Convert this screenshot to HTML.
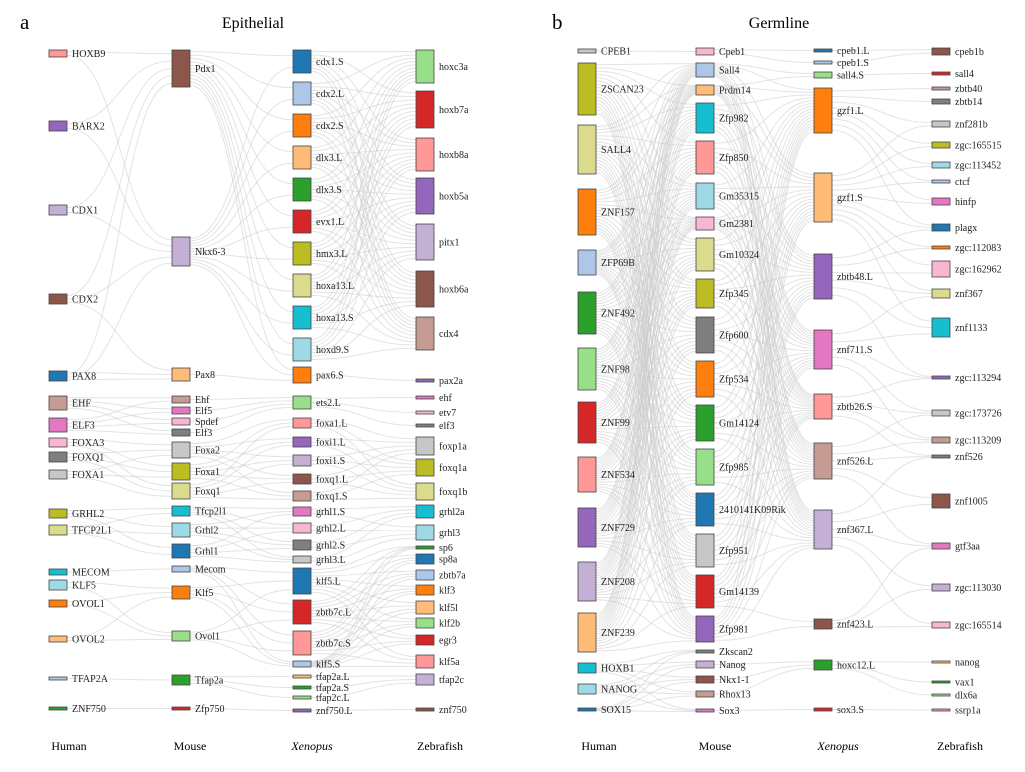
<!DOCTYPE html>
<html><head><meta charset="utf-8">
<style>
body{margin:0;background:#fff;}
svg{display:block;font-family:"Liberation Serif",serif;}
.nl{font-size:10px;fill:#222;}
</style></head>
<body>
<svg id="chart" width="1025" height="772" viewBox="0 0 1025 772">
<text x="20" y="29" font-size="21">a</text>
<text x="253" y="28" font-size="16" text-anchor="middle">Epithelial</text>
<text x="552" y="29" font-size="21">b</text>
<text x="779" y="28" font-size="16" text-anchor="middle">Germline</text>
<g font-size="12">
<text x="69" y="750" text-anchor="middle">Human</text>
<text x="190" y="750" text-anchor="middle">Mouse</text>
<text x="312" y="750" text-anchor="middle" font-style="italic">Xenopus</text>
<text x="440" y="750" text-anchor="middle">Zebrafish</text>
<text x="599" y="750" text-anchor="middle">Human</text>
<text x="715" y="750" text-anchor="middle">Mouse</text>
<text x="838" y="750" text-anchor="middle" font-style="italic">Xenopus</text>
<text x="960" y="750" text-anchor="middle">Zebrafish</text>
</g>
<g id="links"></g>
<g id="nodes"></g>
</svg>
<script>
// Panel a: Epithelial  [label, color, top, bottom]
const aHuman=[["HOXB9","#ff9896",50,57],["BARX2","#9467bd",121,131],["CDX1","#c5b0d5",205,215],["CDX2","#8c564b",294,304],["PAX8","#1f77b4",371,381],["EHF","#c49c94",396,410],["ELF3","#e377c2",418,432],["FOXA3","#f7b6d2",438,447],["FOXQ1","#7f7f7f",452,462],["FOXA1","#c7c7c7",470,479],["GRHL2","#bcbd22",509,518],["TFCP2L1","#dbdb8d",525,535],["MECOM","#17becf",569,575],["KLF5","#9edae5",580,590],["OVOL1","#ff7f0e",600,607],["OVOL2","#ffbb78",636,642],["TFAP2A","#aec7e8",677,680],["ZNF750","#2ca02c",707,710]];
const aMouse=[["Pdx1","#8c564b",50,87],["Nkx6-3","#c5b0d5",237,266],["Pax8","#ffbb78",368,381],["Ehf","#c49c94",396,403],["Elf5","#e377c2",407,414],["Spdef","#f7b6d2",418,425],["Elf3","#7f7f7f",429,436],["Foxa2","#c7c7c7",442,458],["Foxa1","#bcbd22",463,480],["Foxq1","#dbdb8d",483,499],["Tfcp2l1","#17becf",506,516],["Grhl2","#9edae5",523,537],["Grhl1","#1f77b4",544,558],["Mecom","#aec7e8",566,572],["Klf5","#ff7f0e",586,599],["Ovol1","#98df8a",631,641],["Tfap2a","#2ca02c",675,685],["Zfp750","#d62728",707,710]];
const aXen=[["cdx1.S","#1f77b4",50,73],["cdx2.L","#aec7e8",82,105],["cdx2.S","#ff7f0e",114,137],["dlx3.L","#ffbb78",146,169],["dlx3.S","#2ca02c",178,201],["evx1.L","#d62728",210,233],["hmx3.L","#bcbd22",242,265],["hoxa13.L","#dbdb8d",274,297],["hoxa13.S","#17becf",306,329],["hoxd9.S","#9edae5",338,361],["pax6.S","#ff7f0e",367,383],["ets2.L","#98df8a",396,409],["foxa1.L","#ff9896",418,428],["foxi1.L","#9467bd",437,447],["foxi1.S","#c5b0d5",455,466],["foxq1.L","#8c564b",474,484],["foxq1.S","#c49c94",491,501],["grhl1.S","#e377c2",507,516],["grhl2.L","#f7b6d2",523,533],["grhl2.S","#7f7f7f",540,550],["grhl3.L","#c7c7c7",556,563],["klf5.L","#1f77b4",568,594],["zbtb7c.L","#d62728",600,624],["zbtb7c.S","#ff9896",631,655],["klf5.S","#aec7e8",661,667],["tfap2a.L","#ffbb78",675,678],["tfap2a.S","#2ca02c",686,689],["tfap2c.L","#98df8a",696,699],["znf750.L","#9467bd",709,712]];
const aZeb=[["hoxc3a","#98df8a",50,83],["hoxb7a","#d62728",91,128],["hoxb8a","#ff9896",138,171],["hoxb5a","#9467bd",178,214],["pitx1","#c5b0d5",224,260],["hoxb6a","#8c564b",271,307],["cdx4","#c49c94",317,350],["pax2a","#9467bd",379,382],["ehf","#e377c2",396,399],["etv7","#f7b6d2",411,414],["elf3","#7f7f7f",424,427],["foxp1a","#c7c7c7",437,455],["foxq1a","#bcbd22",459,476],["foxq1b","#dbdb8d",483,500],["grhl2a","#17becf",505,518],["grhl3","#9edae5",525,540],["sp6","#2ca02c",546,549],["sp8a","#1f77b4",554,564],["zbtb7a","#aec7e8",570,580],["klf3","#ff7f0e",585,595],["klf5l","#ffbb78",601,614],["klf2b","#98df8a",618,628],["egr3","#d62728",635,645],["klf5a","#ff9896",655,668],["tfap2c","#c5b0d5",674,685],["znf750","#8c564b",708,711]];
// Panel b: Germline
const bHuman=[["CPEB1","#c7c7c7",49,53],["ZSCAN23","#bcbd22",63,115],["SALL4","#dbdb8d",125,174],["ZNF157","#ff7f0e",189,235],["ZFP69B","#aec7e8",250,275],["ZNF492","#2ca02c",292,334],["ZNF98","#98df8a",348,390],["ZNF99","#d62728",402,443],["ZNF534","#ff9896",457,492],["ZNF729","#9467bd",508,547],["ZNF208","#c5b0d5",562,601],["ZNF239","#ffbb78",613,652],["HOXB1","#17becf",663,673],["NANOG","#9edae5",684,694],["SOX15","#1f77b4",708,711]];
const bMouse=[["Cpeb1","#f7b6d2",48,55],["Sall4","#aec7e8",63,77],["Prdm14","#ffbb78",85,95],["Zfp982","#17becf",103,133],["Zfp850","#ff9896",141,174],["Gm35315","#9edae5",183,209],["Gm2381","#f7b6d2",217,230],["Gm10324","#dbdb8d",238,271],["Zfp345","#bcbd22",279,308],["Zfp600","#7f7f7f",317,353],["Zfp534","#ff7f0e",361,397],["Gm14124","#2ca02c",405,441],["Zfp985","#98df8a",449,485],["2410141K09Rik","#1f77b4",493,526],["Zfp951","#c7c7c7",534,567],["Gm14139","#d62728",575,608],["Zfp981","#9467bd",616,642],["Zkscan2","#7f7f7f",650,653],["Nanog","#c5b0d5",661,668],["Nkx1-1","#8c564b",676,683],["Rhox13","#c49c94",691,697],["Sox3","#e377c2",709,712]];
const bXen=[["cpeb1.L","#1f77b4",49,52],["cpeb1.S","#aec7e8",61,64],["sall4.S","#98df8a",72,78],["gzf1.L","#ff7f0e",88,133],["gzf1.S","#ffbb78",173,222],["zbtb48.L","#9467bd",254,299],["znf711.S","#e377c2",330,369],["zbtb26.S","#ff9896",394,419],["znf526.L","#c49c94",443,479],["znf367.L","#c5b0d5",510,549],["znf423.L","#8c564b",619,629],["hoxc12.L","#2ca02c",660,670],["sox3.S","#d62728",708,711]];
const bZeb=[["cpeb1b","#8c564b",48,55],["sall4","#d62728",72,75],["zbtb40","#c49c94",87,90],["zbtb14","#7f7f7f",99,104],["znf281b","#c7c7c7",121,127],["zgc:165515","#bcbd22",142,148],["zgc:113452","#9edae5",162,168],["ctcf","#aec7e8",180,183],["hinfp","#e377c2",198,205],["plagx","#1f77b4",224,231],["zgc:112083","#ff7f0e",246,249],["zgc:162962","#f7b6d2",261,277],["znf367","#dbdb8d",289,298],["znf1133","#17becf",318,337],["zgc:113294","#9467bd",376,379],["zgc:173726","#c7c7c7",410,416],["zgc:113209","#c49c94",437,443],["znf526","#7f7f7f",455,458],["znf1005","#8c564b",494,508],["gtf3aa","#e377c2",543,549],["zgc:113030","#c5b0d5",584,591],["zgc:165514","#f7b6d2",622,628],["nanog","#ffbb78",661,663],["vax1","#2ca02c",681,683],["dlx6a","#98df8a",694,696],["ssrp1a","#ff9896",709,711]];

// link blocks: [column pair, source index range, target index range] (complete bipartite)
const aLinks=[[0,[0,3],[0,1]],[0,[3,4],[2,2]],[0,[4,4],[0,2]],[0,[5,6],[3,6]],[0,[7,9],[7,9]],[0,[10,11],[10,12]],[0,[12,12],[13,13]],[0,[13,15],[14,15]],[0,[16,16],[16,16]],[0,[17,17],[17,17]],
[1,[0,1],[0,10]],[1,[2,2],[10,10]],[1,[3,6],[11,11]],[1,[7,9],[12,16]],[1,[10,12],[17,20]],[1,[13,15],[21,24]],[1,[16,16],[25,27]],[1,[17,17],[28,28]],
[2,[0,9],[0,6]],[2,[10,10],[7,7]],[2,[11,11],[8,10]],[2,[12,16],[11,13]],[2,[17,20],[14,15]],[2,[21,24],[16,23]],[2,[25,27],[24,24]],[2,[28,28],[25,25]]];
const bLinks=[[0,[0,0],[0,0]],[0,[1,11],[1,16]],[0,[12,14],[17,21]],
[1,[0,0],[0,1]],[1,[1,2],[2,2]],[1,[1,16],[3,9]],[1,[15,16],[10,10]],[1,[18,20],[11,11]],[1,[21,21],[12,12]],
[2,[0,1],[0,0]],[2,[2,2],[1,1]],[2,[3,3],[2,9]],[2,[4,4],[4,13]],[2,[5,5],[9,14]],[2,[6,6],[12,16]],[2,[7,7],[14,17]],[2,[8,8],[15,19]],[2,[9,9],[17,21]],[2,[10,10],[19,21]],[2,[11,11],[22,24]],[2,[12,12],[25,25]]];

const NS="http://www.w3.org/2000/svg";
const linkG=document.getElementById('links'), nodeG=document.getElementById('nodes');
function drawPanel(cols,xs,blocks,prefix){
  const W=18;
  const out=cols.map(c=>c.map(()=>[])), inn=cols.map(c=>c.map(()=>[]));
  const links=[];
  blocks.forEach(([c,[s0,s1],[t0,t1]])=>{
    for(let s=s0;s<=s1;s++)for(let t=t0;t<=t1;t++){
      const L={c,s,t};links.push(L);out[c][s].push(L);inn[c+1][t].push(L);
    }
  });
  function pos(col,i,arr,L){const n=cols[col][i];const k=arr.indexOf(L);return n[2]+(k+0.5)/arr.length*(n[3]-n[2]);}
  links.forEach(L=>{
    const x1=xs[L.c]+W, x2=xs[L.c+1];
    const y1=pos(L.c,L.s,out[L.c][L.s],L), y2=pos(L.c+1,L.t,inn[L.c+1][L.t],L);
    const mx=(x1+x2)/2;
    const p=document.createElementNS(NS,'path');
    p.setAttribute('d',`M${x1},${y1}C${mx},${y1} ${mx},${y2} ${x2},${y2}`);
    p.setAttribute('fill','none');p.setAttribute('stroke','#cccccc');p.setAttribute('stroke-width','1');p.setAttribute('stroke-opacity','0.55');
    
    
    linkG.appendChild(p);
  });
  cols.forEach((col,ci)=>col.forEach(n=>{
    const r=document.createElementNS(NS,'rect');
    r.setAttribute('x',xs[ci]);r.setAttribute('y',n[2]);r.setAttribute('width',W);r.setAttribute('height',Math.max(2,n[3]-n[2]));
    r.setAttribute('fill',n[1]);r.setAttribute('stroke','#444');r.setAttribute('stroke-width','0.8');
    
    
    nodeG.appendChild(r);
    const t=document.createElementNS(NS,'text');
    t.setAttribute('x',xs[ci]+W+5);t.setAttribute('y',(n[2]+n[3])/2+3.5);t.setAttribute('class','nl');
    t.textContent=n[0];
    
    
    nodeG.appendChild(t);
  }));
}
drawPanel([aHuman,aMouse,aXen,aZeb],[49,172,293,416],aLinks,'a');
drawPanel([bHuman,bMouse,bXen,bZeb],[578,696,814,932],bLinks,'b');
</script>
</body></html>
